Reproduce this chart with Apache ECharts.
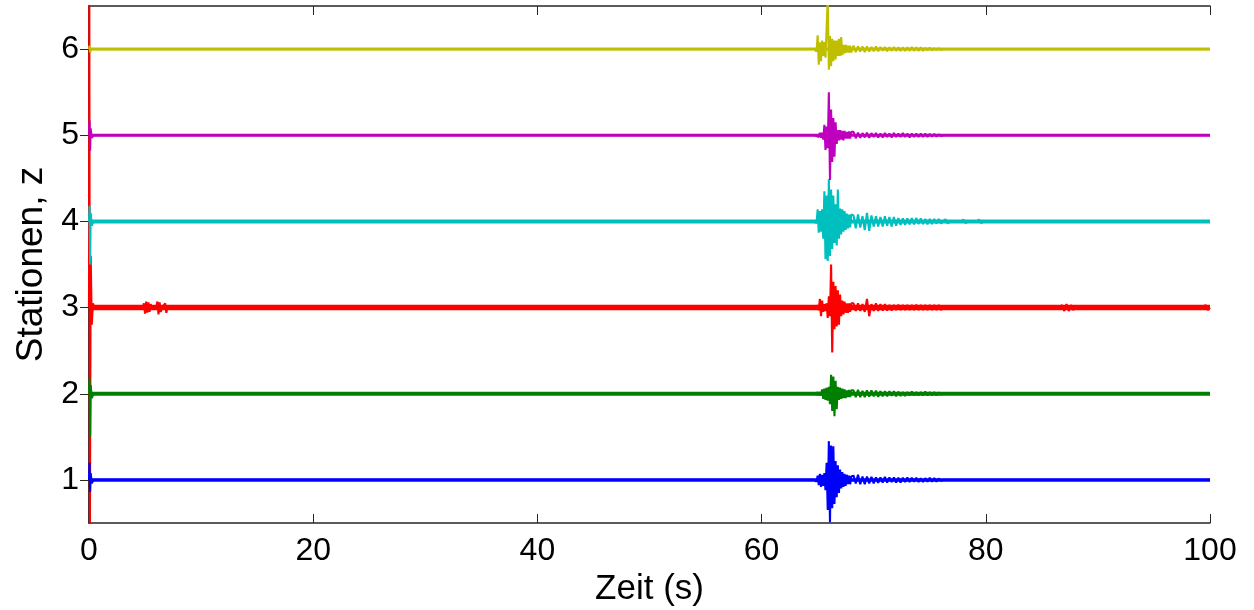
<!DOCTYPE html>
<html>
<head>
<meta charset="utf-8">
<script src="https://cdn.jsdelivr.net/npm/echarts@6/dist/echarts.min.js"></script>
<style>
  html, body { margin: 0; padding: 0; background: #fff; }
  #chart { width: 1254px; height: 610px; }
</style>
</head>
<body>
<div id="chart"></div>
<script>
// Stationen (y-Lage der Spuren)
const stations = [1, 2, 3, 4, 5, 6]
const xTicks = [0, 20, 40, 60, 80, 100]
const yTicks = [1, 2, 3, 4, 5, 6]

// Zeitraster rund um das Ereignis (s)
const eventTimes = [64.8, 64.9, 65.0, 65.1, 65.2, 65.3, 65.4, 65.5, 65.6, 65.7, 65.8, 65.9,
  66.0, 66.1, 66.2, 66.3, 66.4, 66.5, 66.6, 66.7, 66.8, 66.9, 67.0, 67.1, 67.2, 67.3,
  67.4, 67.5, 67.6, 67.7, 67.8, 67.9, 68.0]
const codaTimes = [68.2, 68.4, 68.6, 68.8, 69.0, 69.2, 69.4, 69.6, 69.8, 70.0, 70.2, 70.4,
  70.6, 70.8, 71.0, 71.2, 71.4, 71.6, 71.8, 72.0, 72.2, 72.4, 72.6, 72.8, 73.0, 73.2,
  73.4, 73.6, 73.8, 74.0, 74.2, 74.4, 74.6, 74.8, 75.0, 75.2, 75.4, 75.6, 75.8, 76.0]

// Ausschläge je Station (relativ zur Nulllinie), am Bild abgelesen
// Station 1
const s1Pre = [[0, 0], [0.05, 0.2], [0.1, -0.14], [0.15, 0.08], [0.25, -0.04], [0.4, 0], [64.7, 0]]
const s1Event = [0.01, -0.02, 0.05, -0.06, 0.07, -0.08, 0.06, -0.07, 0.08, -0.12, 0.2, -0.35,
  0.45, -0.49, 0.4, -0.33, 0.39, -0.28, 0.22, -0.2, 0.17, -0.15, 0.12, -0.1, 0.09, -0.08,
  0.07, -0.07, 0.06, -0.05, 0.05, -0.05, 0.04]
const s1Coda = [0.05, -0.04, 0.06, -0.05, 0.04, -0.05, 0.04, -0.04, 0.035, -0.04, 0.03, -0.035,
  0.03, -0.03, 0.035, -0.03, 0.03, -0.025, 0.03, -0.03, 0.025, -0.03, 0.025, -0.025, 0.03,
  -0.025, 0.025, -0.02, 0.025, -0.025, 0.02, -0.025, 0.02, -0.02, 0.025, -0.02, 0.02, -0.02, 0.015, -0.01]
const s1Post = [[76.2, 0], [100, 0]]

// Station 2
const s2Pre = [[0, 0], [0.05, 0.18], [0.1, -0.5], [0.15, 0.1], [0.25, -0.05], [0.4, 0], [64.7, 0]]
const s2Event = [0.01, -0.01, 0.02, -0.02, 0.02, -0.02, 0.05, -0.06, 0.06, -0.07, 0.07, -0.08,
  0.08, -0.12, 0.22, -0.2, 0.2, -0.26, 0.15, -0.18, 0.08, -0.07, 0.07, -0.06, 0.06, -0.05,
  0.05, -0.05, 0.04, -0.04, 0.045, -0.04, 0.04]
const s2Coda = [0.04, -0.04, 0.045, -0.04, 0.035, -0.04, 0.04, -0.035, 0.04, -0.03, 0.035, -0.035,
  0.03, -0.03, 0.03, -0.03, 0.03, -0.025, 0.03, -0.03, 0.025, -0.025, 0.02, -0.025, 0.02,
  -0.02, 0.025, -0.02, 0.02, -0.02, 0.02, -0.02, 0.025, -0.02, 0.02, -0.02, 0.02, -0.02, 0.015, -0.01]
const s2Post = [[76.2, 0], [100, 0]]

// Station 3
const s3Pre = [[0, 0], [0.03, 3.6], [0.08, -2.7], [0.15, 0.6], [0.25, -0.2], [0.35, 0.05], [0.5, 0],
  [4.8, 0], [4.9, 0.05], [5.0, -0.07], [5.1, 0.07], [5.2, -0.06], [5.3, 0.06], [5.4, -0.05],
  [5.5, 0.04], [5.6, 0], [6.0, 0], [6.1, 0.07], [6.2, -0.08], [6.3, 0.06], [6.4, -0.05],
  [6.5, 0], [6.8, 0.05], [6.9, -0.06], [7.0, 0], [64.7, 0]]
const s3Event = [0.02, -0.02, 0.03, -0.03, 0.1, -0.1, 0.08, -0.05, 0.04, -0.04, 0.05, -0.12,
  0.13, -0.1, 0.5, -0.52, 0.3, -0.25, 0.25, -0.22, 0.2, -0.2, 0.15, -0.1, 0.08, -0.08,
  0.07, -0.06, 0.05, -0.06, 0.05, -0.05, 0.05]
const s3Coda = [0.05, -0.04, 0.05, -0.04, 0.04, -0.05, 0.1, -0.1, 0.04, -0.04, 0.05, -0.04,
  0.04, -0.035, 0.04, -0.035, 0.03, -0.035, 0.03, -0.03, 0.035, -0.03, 0.03, -0.03, 0.03,
  -0.03, 0.03, -0.03, 0.035, -0.03, 0.03, -0.03, 0.03, -0.03, 0.03, -0.03, 0.03, -0.03, 0.03, -0.03]
const s3Post = [[76.2, 0], [86.6, 0], [86.8, 0.03], [87.0, -0.04], [87.2, 0.04], [87.4, -0.04],
  [87.6, 0.03], [87.8, -0.03], [88.0, 0], [99.4, 0], [99.6, 0.03], [99.8, -0.03], [100, 0]]

// Station 4
const s4Pre = [[0, 0], [0.05, 0.18], [0.1, -0.5], [0.15, 0.1], [0.25, -0.05], [0.4, 0], [64.7, 0]]
const s4Event = [0.02, -0.02, 0.14, -0.13, 0.12, -0.12, 0.14, -0.2, 0.35, -0.44, 0.3, -0.46,
  0.49, -0.4, 0.37, -0.32, 0.3, -0.25, 0.2, -0.28, 0.37, -0.2, 0.15, -0.15, 0.14, -0.12,
  0.12, -0.1, 0.09, -0.08, 0.08, -0.07, 0.08]
const s4Coda = [0.07, -0.08, 0.08, -0.07, 0.06, -0.1, 0.1, -0.11, 0.07, -0.06, 0.06, -0.06,
  0.05, -0.06, 0.06, -0.05, 0.05, -0.06, 0.05, -0.05, 0.04, -0.04, 0.035, -0.04, 0.035,
  -0.035, 0.04, -0.035, 0.04, -0.03, 0.035, -0.03, 0.03, -0.035, 0.03, -0.03, 0.03, -0.025, 0.03, -0.025]
const s4Post = [[76.2, 0], [76.4, 0.025], [76.6, -0.025], [76.8, 0], [77.8, 0], [78.0, 0.02],
  [78.2, -0.02], [78.4, 0], [79.2, 0], [79.4, 0.02], [79.6, -0.02], [79.8, 0], [100, 0]]

// Station 5
const s5Pre = [[0, 0], [0.05, 0.17], [0.1, -0.18], [0.15, 0.08], [0.25, -0.03], [0.4, 0], [64.7, 0]]
const s5Event = [0.01, -0.01, 0.01, -0.02, 0.03, -0.03, 0.03, -0.05, 0.12, -0.17, 0.1, -0.15,
  0.5, -0.52, 0.3, -0.31, 0.2, -0.25, 0.15, -0.1, 0.06, -0.06, 0.06, -0.05, 0.05, -0.06,
  0.05, -0.04, 0.04, -0.04, 0.045, -0.04, 0.04]
const s5Coda = [0.04, -0.035, 0.03, -0.03, 0.025, -0.025, 0.03, -0.03, 0.025, -0.02, 0.025, -0.025,
  0.02, -0.025, 0.025, -0.02, 0.02, -0.025, 0.025, -0.02, 0.02, -0.02, 0.025, -0.02, 0.02,
  -0.025, 0.02, -0.02, 0.02, -0.02, 0.02, -0.02, 0.02, -0.02, 0.015, -0.015, 0.015, -0.015, 0.01, -0.01]
const s5Post = [[76.2, 0], [100, 0]]

// Station 6
const s6Pre = [[0, 0], [0.05, 0.04], [0.1, -0.04], [0.2, 0], [64.7, 0]]
const s6Event = [0.01, -0.03, 0.16, -0.18, 0.08, -0.14, 0.1, -0.08, 0.08, -0.1, -0.12, 0.6,
  -0.24, 0.15, -0.2, 0.12, -0.14, 0.1, -0.12, 0.1, -0.08, 0.12, -0.08, 0.14, -0.07, 0.05,
  -0.05, 0.05, -0.04, 0.04, -0.04, 0.04, -0.04]
const s6Coda = [0.04, -0.035, 0.035, -0.03, 0.03, -0.035, 0.03, -0.03, 0.025, -0.025, 0.03, -0.025,
  0.025, -0.02, 0.025, -0.025, 0.02, -0.02, 0.025, -0.02, 0.02, -0.02, 0.02, -0.02, 0.02,
  -0.02, 0.025, -0.02, 0.02, -0.02, 0.02, -0.02, 0.015, -0.015, 0.015, -0.015, 0.01, -0.01, 0.01, -0.01]
const s6Post = [[76.2, 0], [100, 0]]

// Darstellung
const traceColors = ['#0000ff', '#008000', '#ff0000', '#00bfbf', '#bf00bf', '#bfbf00']
const bandWidths = [3.5, 4, 5.5, 4, 3, 3]
const fontName = 'Liberation Sans'

const traces = [
  [s1Pre, s1Event, s1Coda, s1Post],
  [s2Pre, s2Event, s2Coda, s2Post],
  [s3Pre, s3Event, s3Coda, s3Post],
  [s4Pre, s4Event, s4Coda, s4Post],
  [s5Pre, s5Event, s5Coda, s5Post],
  [s6Pre, s6Event, s6Coda, s6Post]
]

const buildTrace = (z, parts) => {
  const [pre, ev, coda, post] = parts
  const out = []
  pre.forEach(p => out.push([p[0], z + p[1]]))
  eventTimes.forEach((t, i) => out.push([t, z + ev[i]]))
  codaTimes.forEach((t, i) => out.push([t, z + coda[i]]))
  post.forEach(p => out.push([p[0], z + p[1]]))
  return out
}

const series = []
// Rauschband (Grundlinie)
stations.forEach((z, i) => {
  series.push({
    type: 'line',
    data: [[xTicks[0], z], [xTicks[xTicks.length - 1], z]],
    showSymbol: false,
    silent: true,
    lineStyle: { color: traceColors[i], width: bandWidths[i], opacity: 1 }
  })
})
// Spuren: rot zuerst, damit die anderen Anfangsausschläge darüber liegen
const drawOrder = [2, 0, 1, 3, 4, 5]
drawOrder.forEach(i => {
  series.push({
    type: 'line',
    data: buildTrace(stations[i], traces[i]),
    showSymbol: false,
    clip: true,
    lineStyle: { color: traceColors[i], width: 2.1 },
    emphasis: { disabled: true }
  })
})

const frameLine = { show: true, lineStyle: { color: '#262626', width: 1.5 } }
const innerTick = { show: true, inside: true, length: 9, lineStyle: { color: '#262626', width: 1 } }

const chart = echarts.init(document.getElementById('chart'), null, { renderer: 'canvas' })
chart.setOption({
  animation: false,
  backgroundColor: '#ffffff',
  grid: { left: 89, right: 44, top: 6, bottom: 87, outerBoundsMode: 'none' },
  xAxis: [{
    type: 'value',
    min: 0,
    max: 100,
    interval: 20,
    name: 'Zeit (s)',
    nameLocation: 'middle',
    nameGap: 45,
    nameTextStyle: { fontFamily: fontName, fontSize: 35, color: '#000' },
    axisLine: frameLine,
    axisTick: innerTick,
    splitLine: { show: false },
    axisLabel: { fontFamily: fontName, fontSize: 32, color: '#000', margin: 12 }
  }, {
    type: 'value',
    position: 'top',
    min: 0,
    max: 100,
    interval: 20,
    axisLine: frameLine,
    axisTick: innerTick,
    axisLabel: { show: false },
    splitLine: { show: false }
  }],
  yAxis: [{
    type: 'value',
    min: 0.5,
    max: 6.5,
    name: 'Stationen, z',
    nameLocation: 'middle',
    nameGap: 31,
    nameRotate: 90,
    nameTextStyle: { fontFamily: fontName, fontSize: 37, color: '#000' },
    axisLine: frameLine,
    axisTick: Object.assign({}, innerTick, { customValues: yTicks }),
    splitLine: { show: false },
    axisLabel: { fontFamily: fontName, fontSize: 32, color: '#000', margin: 10, customValues: yTicks }
  }, {
    type: 'value',
    position: 'right',
    min: 0.5,
    max: 6.5,
    axisLine: frameLine,
    axisTick: Object.assign({}, innerTick, { customValues: yTicks }),
    axisLabel: { show: false },
    splitLine: { show: false }
  }],
  series: series
})
</script>
</body>
</html>
